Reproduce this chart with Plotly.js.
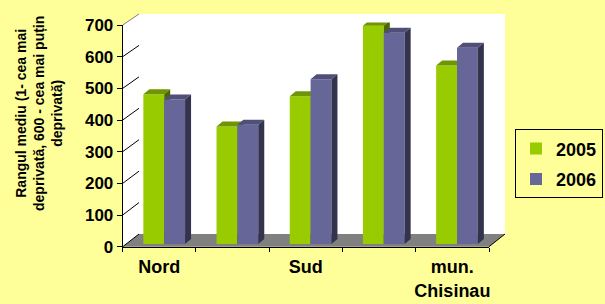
<!DOCTYPE html>
<html><head><meta charset="utf-8">
<script src="https://cdn.plot.ly/plotly-3.0.1.min.js"></script>
<style>html,body{margin:0;padding:0;background:#FFFF99;} #chart{width:605px;height:304px;}</style>
</head><body><div id="chart"></div>
<script>
// ---- data ----
const categories = ["Nord", "Centru", "Sud", "UTA Găgăuzia", "mun. Chisinau"];
const tickLabels = ["Nord", "", "Sud", "", "mun.<br>Chisinau"];
const years = ["2005", "2006"];
const values2005 = [473, 371, 467, 690, 564];
const values2006 = [457, 377, 521, 668, 620];
const yTicks = [0, 100, 200, 300, 400, 500, 600, 700];
const yTitle = "Rangul mediu (1- cea mai<br>deprivată, 600 - cea mai puțin<br>deprivată)";

// ---- geometry (pixels) ----
const W = 605, H = 304;
const px = x => x / W, py = y => 1 - y / H;
const front = {l: 122.7, r: 489, b: 246.7, t: 25};
const back = {l: 139, r: 505, b: 234, t: 14};
const bars = {l: 127.6, r: 493.6, b: 244, t: 22.5};
const yMax = 700;
const barW = 0.285;
const dX = 6 / ((bars.r - bars.l) / categories.length);
const dY = 5 / ((bars.b - bars.t) / yMax);
const idx = categories.map((_, i) => i);

function faces(vals, offset) {
  const tx = [], ty = [], sx = [], sy = [];
  vals.forEach((v, i) => {
    const x0 = i + offset, x1 = x0 + barW;
    tx.push(x0, x1, x1 + dX, x0 + dX, x0, null);
    ty.push(v, v, v + dY, v + dY, v, null);
    sx.push(x1, x1, x1 + dX, x1 + dX, x1, null);
    sy.push(0, v, v + dY, dY, 0, null);
  });
  return {tx, ty, sx, sy};
}

const series = [
  {name: years[0], vals: values2005, offset: -barW, front: '#99CC00', top: '#6F9500', side: '#4D6600', xa: 'x2', ya: 'y2'},
  {name: years[1], vals: values2006, offset: 0, front: '#666699', top: '#4F4F7A', side: '#33334D', xa: 'x3', ya: 'y3'}
];

const traces = [];
traces.push({type: 'scatter', x: categories, y: categories.map(() => null), mode: 'none',
  xaxis: 'x4', yaxis: 'y4', showlegend: false, hoverinfo: 'skip'});
series.forEach((s, k) => {
  const f = faces(s.vals, s.offset);
  traces.push({type: 'bar', name: s.name, x: idx, y: s.vals, width: barW, offset: s.offset,
    marker: {color: s.front, line: {width: 0}}, xaxis: s.xa, yaxis: s.ya, legendgroup: 'g' + k});
  traces.push({type: 'scatter', x: f.tx, y: f.ty, mode: 'lines', fill: 'toself', fillcolor: s.top,
    line: {width: 0, color: s.top}, xaxis: s.xa, yaxis: s.ya, showlegend: false, hoverinfo: 'skip', legendgroup: 'g' + k});
  traces.push({type: 'scatter', x: f.sx, y: f.sy, mode: 'lines', fill: 'toself', fillcolor: s.side,
    line: {width: 0, color: s.side}, xaxis: s.xa, yaxis: s.ya, showlegend: false, hoverinfo: 'skip', legendgroup: 'g' + k});
});

const P = (x, y) => px(x) + ',' + py(y);
const yf = v => front.b - v * (front.b - front.t) / yMax;
const yb = v => back.b - v * (back.b - back.t) / yMax;
const shapes = [
  {type: 'rect', xref: 'paper', yref: 'paper', x0: px(back.l), x1: px(back.r), y0: py(back.b), y1: py(back.t),
    fillcolor: '#FFFFFF', line: {width: 0}, layer: 'below'},
  {type: 'path', xref: 'paper', yref: 'paper', layer: 'below', fillcolor: '#FFFFFF', line: {width: 0},
    path: 'M' + P(front.l, front.b) + 'L' + P(front.l, front.t) + 'L' + P(back.l, back.t) + 'L' + P(back.l, back.b) + 'Z'},
  {type: 'path', xref: 'paper', yref: 'paper', layer: 'below', fillcolor: '#808080', line: {width: 0},
    path: 'M' + P(front.l, front.b) + 'L' + P(front.r, front.b) + 'L' + P(back.r, back.b) + 'L' + P(back.l, back.b) + 'Z'},
  {type: 'line', xref: 'paper', yref: 'paper', layer: 'below', x0: px(front.r), y0: py(front.b), x1: px(back.r), y1: py(back.b),
    line: {color: '#000', width: 1}}
];
yTicks.forEach(v => {
  shapes.push({type: 'line', xref: 'paper', yref: 'paper', layer: 'below',
    x0: px(front.l), y0: py(yf(v)), x1: px(back.l), y1: py(yb(v)),
    line: {color: v === yMax ? '#808080' : '#000', width: 1}});
});

const boldFont = (size) => ({family: 'Liberation Sans, Arial, sans-serif', size: size, color: '#000', weight: 'bold'});

const layout = {
  width: W, height: H, margin: {l: 0, r: 0, t: 0, b: 0},
  paper_bgcolor: '#FFFF99', plot_bgcolor: 'rgba(0,0,0,0)',
  font: {family: 'Liberation Sans, Arial, sans-serif', color: '#000', size: 12},
  barmode: 'overlay', showlegend: true,
  xaxis: {domain: [px(back.l), px(back.r)], range: [0, 1], showgrid: false, zeroline: false, showticklabels: false,
    ticks: '', showline: true, mirror: true, linecolor: '#808080', linewidth: 1, anchor: 'y', fixedrange: true},
  yaxis: {domain: [py(back.b), py(back.t)], range: [0, yMax], tickmode: 'array', tickvals: yTicks.slice(1, -1),
    showticklabels: false, ticks: '', showgrid: true, gridcolor: '#000', gridwidth: 1, zeroline: false,
    showline: true, mirror: true, linecolor: '#808080', anchor: 'x', fixedrange: true},
  xaxis2: {domain: [px(bars.l), px(bars.r)], range: [-0.5, categories.length - 0.5], visible: false, anchor: 'y2'},
  yaxis2: {domain: [py(bars.b), py(bars.t)], range: [0, yMax], visible: false, anchor: 'x2'},
  xaxis3: {overlaying: 'x2', range: [-0.5, categories.length - 0.5], visible: false, anchor: 'y3'},
  yaxis3: {overlaying: 'y2', range: [0, yMax], visible: false, anchor: 'x3'},
  xaxis4: {domain: [px(front.l), px(front.r)], type: 'category', categoryorder: 'array', categoryarray: categories,
    range: [-0.5, categories.length - 0.5], tickmode: 'array', tickvals: categories, ticktext: tickLabels,
    tickson: 'boundaries', ticks: 'outside', ticklen: 4, tickcolor: '#000', showline: true, linecolor: '#000',
    showgrid: false, zeroline: false, tickfont: boldFont(18), tickangle: 0, ticklabelstandoff: 4, anchor: 'y4'},
  yaxis4: {domain: [py(front.b), py(front.t)], range: [0, yMax], tickmode: 'array', tickvals: yTicks,
    ticks: 'outside', ticklen: 5, tickcolor: '#000', showline: true, linecolor: '#000', showgrid: false,
    zeroline: false, tickfont: boldFont(17), anchor: 'x4'},
  shapes: shapes,
  annotations: [{text: yTitle, xref: 'paper', yref: 'paper', x: px(39), y: py(114), xanchor: 'center', yanchor: 'middle',
    textangle: -90, showarrow: false, font: boldFont(14)}],
  legend: {x: px(603), xanchor: 'right', y: py(129.3), yanchor: 'top', bgcolor: 'rgba(0,0,0,0)',
    bordercolor: '#000', borderwidth: 1, font: boldFont(18), tracegroupgap: 4}
};

Plotly.newPlot('chart', traces, layout, {displayModeBar: false, staticPlot: true});
</script></body></html>
